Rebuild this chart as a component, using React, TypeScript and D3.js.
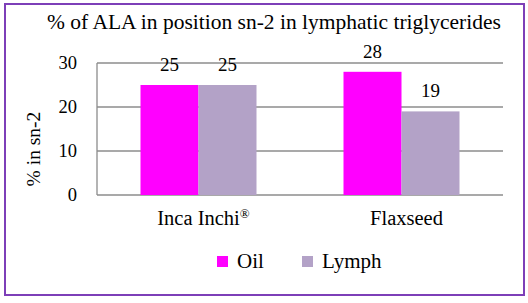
import React from "react";
import * as d3 from "d3";

const categories = ["Inca Inchi®", "Flaxseed"];
const seriesNames = ["Oil", "Lymph"];
const oilValues = [25, 28];
const lymphValues = [25, 19];
const yTicks = [0, 10, 20, 30];
const colors = ["#FF00FF", "#B3A2C7"];

const F = "Liberation Serif";

function CatLabel({ text }: { text: string }) {
  if (text.endsWith("®")) {
    return (
      <>
        {text.slice(0, -1)}
        <tspan fontSize={13} dy={-7}>®</tspan>
      </>
    );
  }
  return <>{text}</>;
}

export default function App() {
  const W = 528, H = 303;
  const left = 97, right = 503, top = 63, bottom = 195;
  const x = d3.scaleBand<string>().domain(categories).range([left, right]).paddingInner(0).paddingOuter(0);
  const y = d3.scaleLinear().domain([0, 30]).range([bottom, top]);
  const bw = x.bandwidth();
  const barW = bw / 3.5;
  const xs = d3.scaleBand<string>().domain(seriesNames).range([0, barW * 2]);
  const series = [oilValues, lymphValues];
  return (
    <svg width={W} height={H} fontFamily={F} style={{ position: "absolute", left: 0, top: 0 }}>
      <rect x={0} y={0} width={W} height={H} fill="#fff" />
      <rect x={5} y={4} width={519} height={291} fill="#fff" stroke="#7D3FB8" strokeWidth={2} />
      <text x={274} y={29} textAnchor="middle" fontSize={21.5} fill="#000" fontFamily={F}>
        % of ALA in position sn-2 in lymphatic triglycerides
      </text>
      {yTicks.map((t) => (
        <g key={t}>
          <line x1={left} x2={right} y1={y(t)} y2={y(t)} stroke="#8C8C8C" strokeWidth={1.3} />
          <text x={77} y={y(t)} dy="0.33em" textAnchor="end" fontSize={18.5} fill="#000" fontFamily={F}>{t}</text>
        </g>
      ))}
      <line x1={left} x2={left} y1={top} y2={bottom} stroke="#8C8C8C" strokeWidth={1.3} />
      <text transform={`translate(40,149) rotate(-90)`} textAnchor="middle" fontSize={19.5} fill="#000" fontFamily={F}>% in sn-2</text>
      {categories.map((c, ci) => {
        const x0 = (x(c) as number) + (bw - barW * 2) / 2;
        return (
          <g key={c}>
            {seriesNames.map((s, si) => {
              const v = series[si][ci];
              const bx = x0 + (xs(s) as number);
              return (
                <g key={s}>
                  <rect x={bx} y={y(v)} width={xs.bandwidth()} height={y(0) - y(v)} fill={colors[si]} />
                  <text x={bx + xs.bandwidth() / 2} y={y(v) - 14} textAnchor="middle" fontSize={19} fill="#000" fontFamily={F}>{v}</text>
                </g>
              );
            })}
            <text x={(x(c) as number) + bw / 2 + 5} y={225} textAnchor="middle" fontSize={20.5} fill="#000" fontFamily={F}>
              <CatLabel text={c} />
            </text>
          </g>
        );
      })}
      {seriesNames.map((s, si) => {
        const lx = si === 0 ? 217 : 302;
        return (
          <g key={s}>
            <rect x={lx} y={256} width={11} height={11} fill={colors[si]} />
            <text x={lx + 20} y={268} fontSize={21} fill="#000" fontFamily={F}>{s}</text>
          </g>
        );
      })}
    </svg>
  );
}
